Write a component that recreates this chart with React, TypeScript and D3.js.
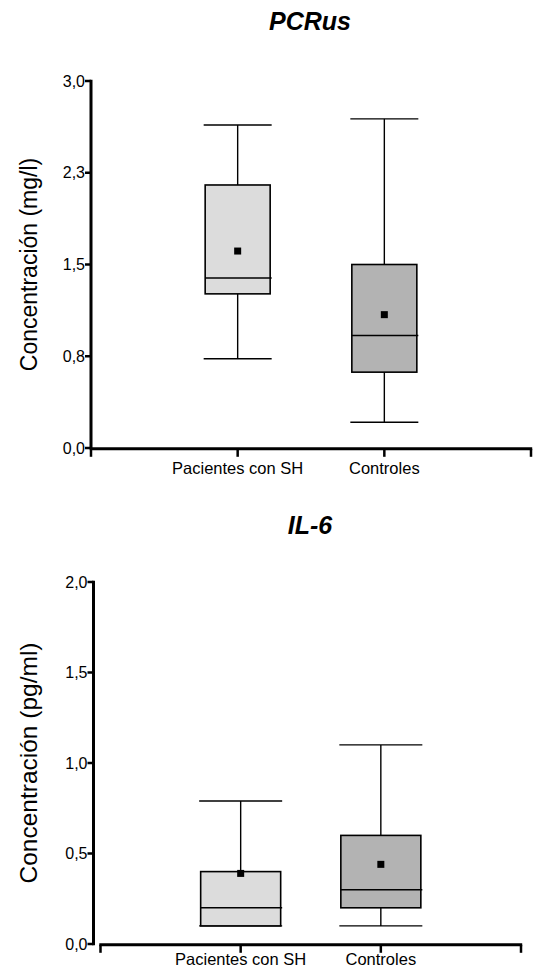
import React from "react";
import * as d3 from "d3";

const categories = ["Pacientes con SH", "Controles"];
const boxFills = ["#dcdcdc", "#b3b3b3"];

// PCRus
const pcrTitle = "PCRus";
const pcrYLabel = "Concentración (mg/l)";
const pcrTicks = [0, 0.75, 1.5, 2.25, 3.0];
const pcrTickLabels = ["0,0", "0,8", "1,5", "2,3", "3,0"];
const pcrWhiskerLow = [0.73, 0.21];
const pcrQ1 = [1.26, 0.62];
const pcrMedian = [1.39, 0.92];
const pcrQ3 = [2.15, 1.5];
const pcrWhiskerHigh = [2.64, 2.69];
const pcrMean = [1.61, 1.09];

// IL-6
const il6Title = "IL-6";
const il6YLabel = "Concentración (pg/ml)";
const il6Ticks = [0, 0.5, 1.0, 1.5, 2.0];
const il6TickLabels = ["0,0", "0,5", "1,0", "1,5", "2,0"];
const il6WhiskerLow = [0.1, 0.1];
const il6Q1 = [0.1, 0.2];
const il6Median = [0.2, 0.3];
const il6Q3 = [0.4, 0.6];
const il6WhiskerHigh = [0.79, 1.1];
const il6Mean = [0.39, 0.44];

const FONT = "'Liberation Sans', Arial, Helvetica, sans-serif";

type PanelProps = {
  title: string;
  yLabel: string;
  yLabelSize: number;
  ticks: number[];
  tickLabels: string[];
  yMax: number;
  low: number[];
  q1: number[];
  med: number[];
  q3: number[];
  high: number[];
  mean: number[];
  yRange: [number, number];
  yAxisX: number;
  xRange: [number, number];
  titleY: number;
  boxW: number;
  capW: number;
  xLabelOffset: number;
};

function Panel(p: PanelProps) {
  const y = d3.scaleLinear().domain([0, p.yMax]).range(p.yRange);
  const x = d3.scaleLinear().domain([0, categories.length + 1]).range(p.xRange);
  const xAxisY = p.yRange[0] + 0.8;
  const xTickIdx = d3.range(categories.length + 2);
  const labelCenterY = (p.yRange[0] + p.yRange[1]) / 2;
  return (
    <g>
      <text
        x={310}
        y={p.titleY}
        textAnchor="middle"
        fontFamily={FONT}
        fontWeight="bold"
        fontStyle="italic"
        fontSize={25}
      >
        {p.title}
      </text>
      <text
        transform={`translate(37,${labelCenterY}) rotate(-90)`}
        textAnchor="middle"
        fontFamily={FONT}
        fontSize={p.yLabelSize}
      >
        {p.yLabel}
      </text>
      {/* y axis */}
      <line
        x1={p.yAxisX}
        x2={p.yAxisX}
        y1={y(p.yMax) - 1.2}
        y2={y(0) + 1.2}
        stroke="#000"
        strokeWidth={3}
      />
      {p.ticks.map((t, i) => (
        <g key={i}>
          <line
            x1={p.yAxisX - 6}
            x2={p.yAxisX}
            y1={y(t)}
            y2={y(t)}
            stroke="#000"
            strokeWidth={2.5}
          />
          <text
            x={p.yAxisX - 6}
            y={y(t)}
            dy="0.35em"
            textAnchor="end"
            fontFamily={FONT}
            fontSize={16}
          >
            {p.tickLabels[i]}
          </text>
        </g>
      ))}
      {/* x axis */}
      <line
        x1={p.xRange[0] - 1.2}
        x2={p.xRange[1] + 1.2}
        y1={xAxisY}
        y2={xAxisY}
        stroke="#000"
        strokeWidth={3}
      />
      {xTickIdx.map((i) => (
        <line
          key={i}
          x1={x(i)}
          x2={x(i)}
          y1={xAxisY}
          y2={xAxisY + 8}
          stroke="#000"
          strokeWidth={2.5}
        />
      ))}
      {categories.map((c, i) => (
        <text
          key={c}
          x={x(i + 1)}
          y={xAxisY + p.xLabelOffset}
          textAnchor="middle"
          fontFamily={FONT}
          fontSize={16.5}
        >
          {c}
        </text>
      ))}
      {/* boxes */}
      {categories.map((c, i) => {
        const cx = x(i + 1);
        const bw = p.boxW;
        const cw = p.capW;
        return (
          <g key={c}>
            <line x1={cx} x2={cx} y1={y(p.high[i])} y2={y(p.q3[i])} stroke="#000" strokeWidth={1.4} />
            <line x1={cx} x2={cx} y1={y(p.q1[i])} y2={y(p.low[i])} stroke="#000" strokeWidth={1.4} />
            <line x1={cx - cw / 2} x2={cx + cw / 2} y1={y(p.high[i])} y2={y(p.high[i])} stroke="#000" strokeWidth={1.4} />
            <line x1={cx - cw / 2} x2={cx + cw / 2} y1={y(p.low[i])} y2={y(p.low[i])} stroke="#000" strokeWidth={1.4} />
            <rect
              x={cx - bw / 2}
              y={y(p.q3[i])}
              width={bw}
              height={y(p.q1[i]) - y(p.q3[i])}
              fill={boxFills[i]}
              stroke="#000"
              strokeWidth={1.6}
            />
            <line
              x1={cx - bw / 2}
              x2={cx + cw / 2}
              y1={y(p.med[i])}
              y2={y(p.med[i])}
              stroke="#000"
              strokeWidth={1.4}
            />
            <rect x={cx - 3.5} y={y(p.mean[i]) - 3.5} width={7} height={7} fill="#000" />
          </g>
        );
      })}
    </g>
  );
}

export default function App() {
  return (
    <svg
      width={534}
      height={972}
      style={{ position: "absolute", left: 0, top: 0, background: "#fff" }}
    >
      <rect width={534} height={972} fill="#fff" />
      <Panel
        title={pcrTitle}
        yLabel={pcrYLabel}
        yLabelSize={23}
        ticks={pcrTicks}
        tickLabels={pcrTickLabels}
        yMax={3}
        low={pcrWhiskerLow}
        q1={pcrQ1}
        med={pcrMedian}
        q3={pcrQ3}
        high={pcrWhiskerHigh}
        mean={pcrMean}
        yRange={[448, 81]}
        yAxisX={91}
        xRange={[91, 531]}
        titleY={30}
        boxW={65}
        capW={68}
        xLabelOffset={25}
      />
      <Panel
        title={il6Title}
        yLabel={il6YLabel}
        yLabelSize={24.5}
        ticks={il6Ticks}
        tickLabels={il6TickLabels}
        yMax={2}
        low={il6WhiskerLow}
        q1={il6Q1}
        med={il6Median}
        q3={il6Q3}
        high={il6WhiskerHigh}
        mean={il6Mean}
        yRange={[944, 582]}
        yAxisX={93.5}
        xRange={[100.5, 521]}
        titleY={534}
        boxW={80}
        capW={83}
        xLabelOffset={20}
      />
    </svg>
  );
}
